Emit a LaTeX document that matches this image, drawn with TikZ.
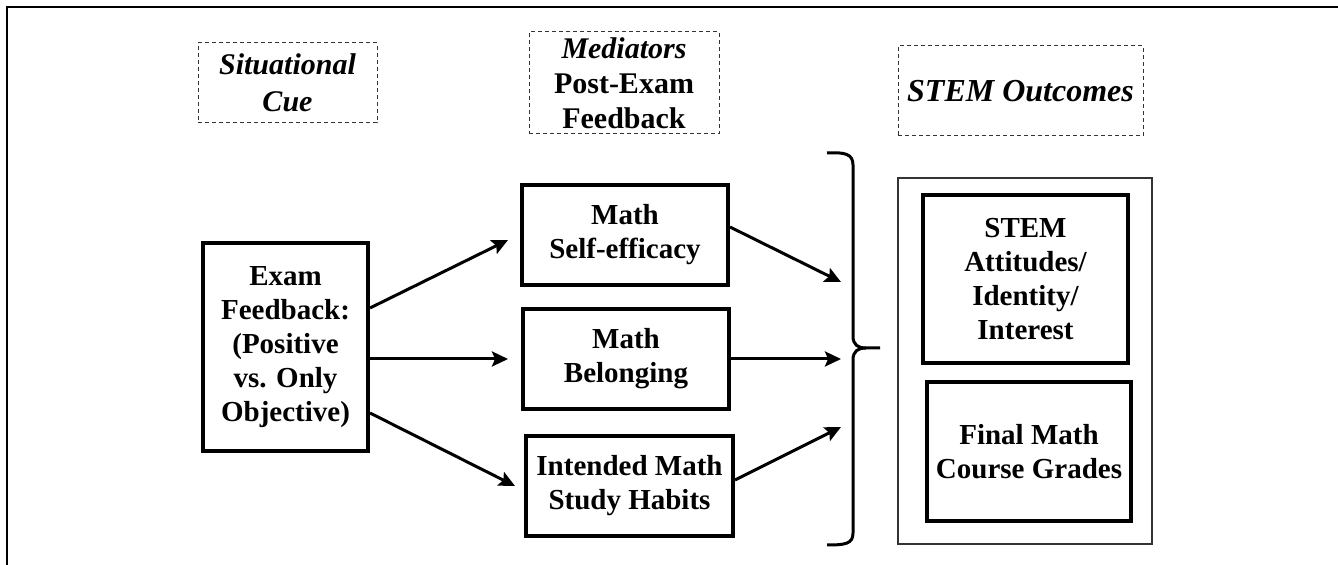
\documentclass[tikz,border=0pt]{standalone}
\usepackage{fontspec}
\setmainfont{Liberation Serif}
\usetikzlibrary{arrows.meta}
\tikzset{
	box/.style={draw, line width=2pt, inner sep=0pt, align=center, font=\fontsize{14.5}{17}\selectfont\bfseries},
	cuebox/.style={draw=black!80, line width=0.5pt, dash pattern=on 2pt off 1.5pt, inner sep=0pt, align=center, font=\fontsize{15}{17.5}\selectfont\bfseries},
	arr/.style={line width=1.5pt, -{Stealth[length=8pt, width=7.5pt, inset=1.5pt]}},
}

\begin{document}
\begin{tikzpicture}[x=0.5pt, y=-0.5pt]
		%%%%% START %%%%%
		\useasboundingbox (0, 0) rectangle (1338, 565);
		\draw[line width=0.8pt] (1338, 7) -- (7, 7) -- (7, 565);
		
		\node[cuebox, minimum width=89.5pt, minimum height=40pt, font=\fontsize{15}{18.5}\selectfont\bfseries\itshape] (cue) at (287.5, 83) {Situational\\Cue};
		\node[cuebox, minimum width=95pt, minimum height=51pt] (med) at (624, 83) {\itshape Mediators\\Post-Exam\\Feedback};
		\node[cuebox, minimum width=122.5pt, minimum height=45pt, font=\fontsize{16}{18}\selectfont\bfseries\itshape] (outc) at (1020.5, 91) {STEM Outcomes};
		
		\node[box, minimum width=82.5pt, minimum height=104pt] (exam) at (285.5, 347) {Exam\\Feedback:\\(Positive\\vs. Only\\Objective)};
		
		\node[box, minimum width=103pt, minimum height=50pt] (selfeff) at (625, 235) {Math\\Self-efficacy};
		\node[box, minimum width=103pt, minimum height=50pt] (belong) at (626, 359) {Math\\Belonging};
		\node[box, minimum width=103.5pt, minimum height=50pt] (study) at (629.5, 486) {Intended Math\\Study Habits};
		
		\draw[arr] ([yshift=19.5pt]exam.east) -- ([xshift=-6pt, yshift=-2.5pt]selfeff.west);
		\draw[arr] (exam.east |- belong.west) -- ([xshift=-6.5pt]belong.west);
		\draw[arr] ([yshift=-33pt]exam.east) -- ([xshift=-4.5pt]study.west);
		
		\coordinate (in1) at (841, 282);
		\coordinate (in2) at (841, 359);
		\coordinate (in3) at (841, 427);
		\draw[arr] ([yshift=4pt]selfeff.east) -- (in1);
		\draw[arr] (belong.east) -- (in2);
		\draw[arr] ([yshift=3pt]study.east) -- (in3);
		
		% brace
		\draw[line width=1.5pt] (827, 153) .. controls (845, 152) and (853, 154) .. (853, 165) -- (853, 336) .. controls (853, 345) and (858, 348) .. (866, 348) -- (880, 348);
		\draw[line width=1.5pt] (866, 348) .. controls (858, 348) and (853, 351) .. (853, 360) -- (853, 533) .. controls (853, 544) and (845, 545) .. (827, 545);
		
		\node[draw=black!80, line width=0.7pt, minimum width=127pt, minimum height=183pt] (outbox) at (1025, 361) {};
		\node[box, minimum width=102.5pt, minimum height=84pt] (attit) at (1025.5, 279) {STEM\\Attitudes/\\Identity/\\Interest};
		\node[box, minimum width=102pt, minimum height=69.5pt] (grades) at (1029, 451.5) {Final Math\\Course Grades};
		
		%%%%% END %%%%%
	\end{tikzpicture}
\end{document}
